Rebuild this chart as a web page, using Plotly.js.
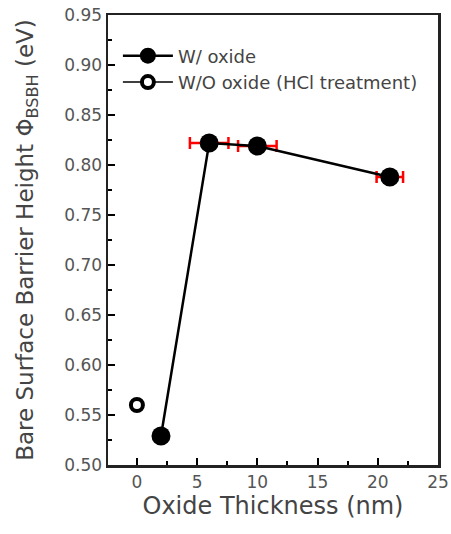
<!DOCTYPE html>
<html><head><meta charset="utf-8">
<script src="https://cdn.plot.ly/plotly-3.0.1.min.js"></script>
<style>html,body{margin:0;padding:0;background:#fff}#c{width:451px;height:534px}</style>
</head><body><div id="c"></div>
<script>
const withOxideX = [2, 6, 10, 21];
const withOxideY = [0.529, 0.822, 0.819, 0.788];
const withOxideXErr = [0, 1.6, 1.6, 1.1];
const noOxideX = [0];
const noOxideY = [0.560];
const seriesNames = ["W/ oxide", "W/O oxide (HCl treatment)"];

const FONT = 'DejaVu Sans, Liberation Sans, sans-serif';
const traces = [
  {x: withOxideX, y: withOxideY, name: seriesNames[0], type: 'scatter', mode: 'lines+markers',
   line: {color: '#000', width: 2.5}, marker: {color: '#000', size: 19, symbol: 'circle'},
   error_x: {type: 'data', array: withOxideXErr, visible: true, color: '#ff0000', thickness: 2.5, width: 6}},
  {x: noOxideX, y: noOxideY, name: seriesNames[1], type: 'scatter', mode: 'lines+markers',
   line: {color: '#000', width: 1.5}, marker: {color: '#fff', size: 12, symbol: 'circle', line: {color: '#000', width: 4}}}
];
const axisFont = {family: FONT, size: 17, color: '#555'};
const layout = {
  width: 451, height: 534,
  margin: {l: 108, r: 13, t: 15, b: 69},
  paper_bgcolor: '#fff', plot_bgcolor: '#fff',
  showlegend: true,
  legend: {x: 0.03, y: 0.95, xanchor: 'left', yanchor: 'top', bgcolor: 'rgba(0,0,0,0)',
    font: {family: FONT, size: 18, color: '#444'}, tracegroupgap: 0, itemwidth: 50},
  xaxis: {range: [-2.4, 25], tickvals: [0,5,10,15,20,25], ticks: 'inside', ticklen: 7, tickwidth: 2, tickcolor: '#000',
    minor: {tickvals: [2.5,7.5,12.5,17.5,22.5], ticks: 'inside', ticklen: 4, tickwidth: 2, tickcolor: '#000'},
    showline: true, linecolor: '#222', linewidth: 2.5, mirror: true, showgrid: false, zeroline: false,
    tickfont: axisFont,
    title: {text: 'Oxide Thickness (nm)', font: {family: FONT, size: 24, color: '#444'}, standoff: 5}},
  yaxis: {range: [0.5, 0.95], tickvals: [0.5,0.55,0.6,0.65,0.7,0.75,0.8,0.85,0.9,0.95], tickformat: '.2f',
    ticks: 'inside', ticklen: 7, tickwidth: 2, tickcolor: '#000',
    minor: {tickvals: [0.525,0.575,0.625,0.675,0.725,0.775,0.825,0.875,0.925], ticks: 'inside', ticklen: 4, tickwidth: 2, tickcolor: '#000'},
    showline: true, linecolor: '#222', linewidth: 2.5, mirror: true, showgrid: false, zeroline: false,
    tickfont: axisFont,
    title: {text: 'Bare Surface Barrier Height Φ<sub>BSBH</sub> (eV)', font: {family: FONT, size: 23, color: '#444'}, standoff: 24}}
};
Plotly.newPlot('c', traces, layout, {displayModeBar: false, staticPlot: true});
</script></body></html>
